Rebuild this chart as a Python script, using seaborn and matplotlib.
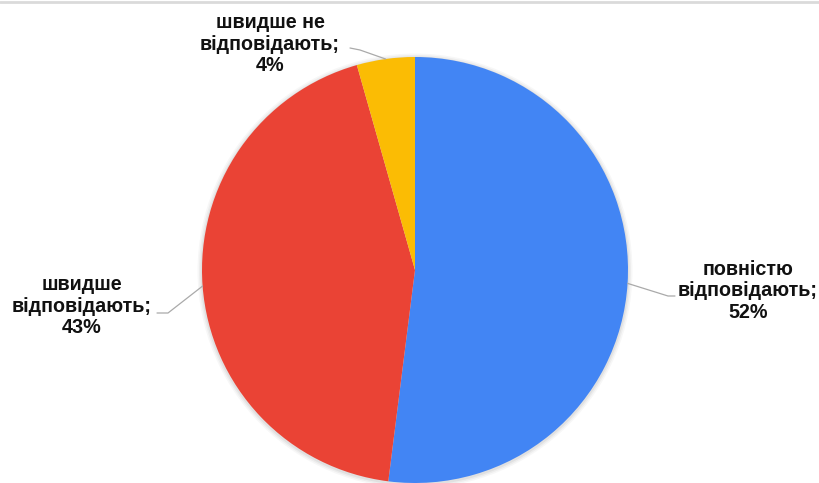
import numpy as np
import matplotlib
matplotlib.use('Agg')
import matplotlib.pyplot as plt
import seaborn as sns

labels = ['повністю\nвідповідають;\n52%', 'швидше\nвідповідають;\n43%', 'швидше не\nвідповідають;\n4%']
shares = [52.0, 43.6, 4.4]
colors = ['#4285F4', '#EA4335', '#FBBC04']

sns.set_theme(style='white')
plt.rcParams['font.family'] = ['Liberation Sans', 'DejaVu Sans']

W, H = 820, 483
fig = plt.figure(figsize=(W / 100, H / 100), dpi=100)
ax = fig.add_axes([0, 0, 1, 1])

cx, cy, r = 415, H - 270, 213

# faint shadow around the pie
for k, a in enumerate([0.05, 0.04, 0.03]):
    ax.add_patch(plt.Circle((cx, cy - 1), r + 1.5 + k * 1.5, color='black', alpha=a, lw=0, zorder=0))

wedges, _ = ax.pie(shares, colors=colors, startangle=90, counterclock=False,
                   center=(cx, cy), radius=r, frame=True,
                   wedgeprops=dict(linewidth=0))
ax.set_xlim(0, W)
ax.set_ylim(0, H)
ax.set_aspect('equal')
ax.axis('off')

# label positions (text centre), elbow point and line end
label_pos = [(748, H - 291), (82, H - 306), (270, H - 44)]
elbows = [(668, H - 296), (168, H - 313), (360, H - 50)]
ends = [(675, H - 296), (157, H - 313), (350, H - 48)]

for w, lab, lp, el, en in zip(wedges, labels, label_pos, elbows, ends):
    ang = np.deg2rad((w.theta1 + w.theta2) / 2)
    ex, ey = cx + r * np.cos(ang), cy + r * np.sin(ang)
    ax.plot([ex, el[0], en[0]], [ey, el[1], en[1]], color='#aaaaaa', lw=0.9, zorder=1)
    ax.text(lp[0], lp[1], lab, ha='center', va='center', fontsize=14.2,
            fontweight='bold', color='#111111', linespacing=1.18)

ax.plot([0, W], [H - 2, H - 2], color='#dadada', lw=2, clip_on=False)

fig.savefig('out.png', dpi=100)
